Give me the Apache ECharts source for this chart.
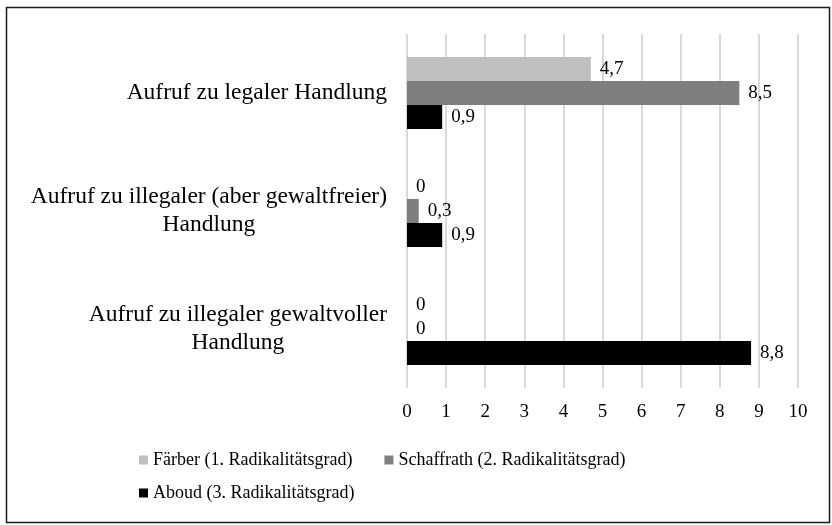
<!DOCTYPE html>
<html>
<head>
    <meta charset="utf-8">
    <title>Aufrufe nach Radikalitätsgrad</title>
    <script src="https://cdn.jsdelivr.net/npm/echarts@6/dist/echarts.min.js"></script>
    <style>
        html, body { margin: 0; padding: 0; background: #fff; }
        #main { width: 832px; height: 525px; }
    </style>
</head>
<body>
    <div id="main"></div>
    <script type="text/javascript">
        // Kategorien (von oben nach unten)
        var categories = [
            'Aufruf zu legaler Handlung',
            'Aufruf zu illegaler (aber gewaltfreier)\nHandlung',
            'Aufruf zu illegaler gewaltvoller\nHandlung'
        ];
        var seriesNames = [
            'Färber (1. Radikalitätsgrad)',
            'Schaffrath (2. Radikalitätsgrad)',
            'Aboud (3. Radikalitätsgrad)'
        ];
        var faerber = [4.7, 0, 0];
        var schaffrath = [8.5, 0.3, 0];
        var aboud = [0.9, 0.9, 8.8];
        var xTicks = [0, 1, 2, 3, 4, 5, 6, 7, 8, 9, 10];

        var colors = ['#bfbfbf', '#7f7f7f', '#000000'];
        var serif = '"Liberation Serif", "Times New Roman", serif';

        function komma(v) {
            return String(v).replace('.', ',');
        }

        function makeSeries(name, data, color) {
            return {
                name: name,
                type: 'bar',
                data: data,
                barGap: '0%',
                barCategoryGap: '39%',
                itemStyle: { color: color },
                label: {
                    show: true,
                    position: 'right',
                    distance: 9,
                    color: '#000',
                    fontFamily: serif,
                    fontSize: 19,
                    formatter: function (p) { return komma(p.value); }
                }
            };
        }

        var myChart = echarts.init(document.getElementById('main'));
        var option = {
            backgroundColor: '#fff',
            animation: false,
            color: colors,
            textStyle: { fontFamily: serif },
            graphic: [{
                type: 'rect',
                left: 4, top: 5,
                shape: { width: 823, height: 515 },
                style: { fill: 'none', stroke: '#1a1a1a', lineWidth: 1.5 },
                silent: true
            }],
            legend: [{
                data: seriesNames.slice(0, 2),
                left: 134, top: 446,
                icon: 'rect', itemWidth: 9, itemHeight: 9, itemGap: 32,
                textStyle: { fontFamily: serif, fontSize: 18, color: '#000' }
            }, {
                data: seriesNames.slice(2),
                left: 134, top: 479,
                icon: 'rect', itemWidth: 9, itemHeight: 9,
                textStyle: { fontFamily: serif, fontSize: 18, color: '#000' }
            }],
            grid: {
                left: 407, right: 34, top: 34, bottom: 137,
                containLabel: false
            },
            xAxis: {
                type: 'value',
                min: xTicks[0],
                max: xTicks[xTicks.length - 1],
                interval: 1,
                axisLine: { show: false },
                axisTick: { show: false },
                splitLine: { lineStyle: { color: '#d9d9d9', width: 2 } },
                axisLabel: {
                    color: '#000', fontFamily: serif, fontSize: 19, margin: 15
                }
            },
            yAxis: {
                type: 'category',
                inverse: true,
                data: categories,
                axisLine: { show: false },
                axisTick: { show: false },
                axisLabel: {
                    margin: 20,
                    color: '#000',
                    formatter: function (v) {
                        return v.split('\n').map(function (s) { return '{c|' + s + '}'; }).join('\n');
                    },
                    rich: {
                        c: { align: 'center', fontFamily: serif, fontSize: 23.5, lineHeight: 28, color: '#000' }
                    }
                }
            },
            series: [
                makeSeries(seriesNames[0], faerber, colors[0]),
                makeSeries(seriesNames[1], schaffrath, colors[1]),
                makeSeries(seriesNames[2], aboud, colors[2])
            ]
        };
        myChart.setOption(option);
    </script>
</body>
</html>
